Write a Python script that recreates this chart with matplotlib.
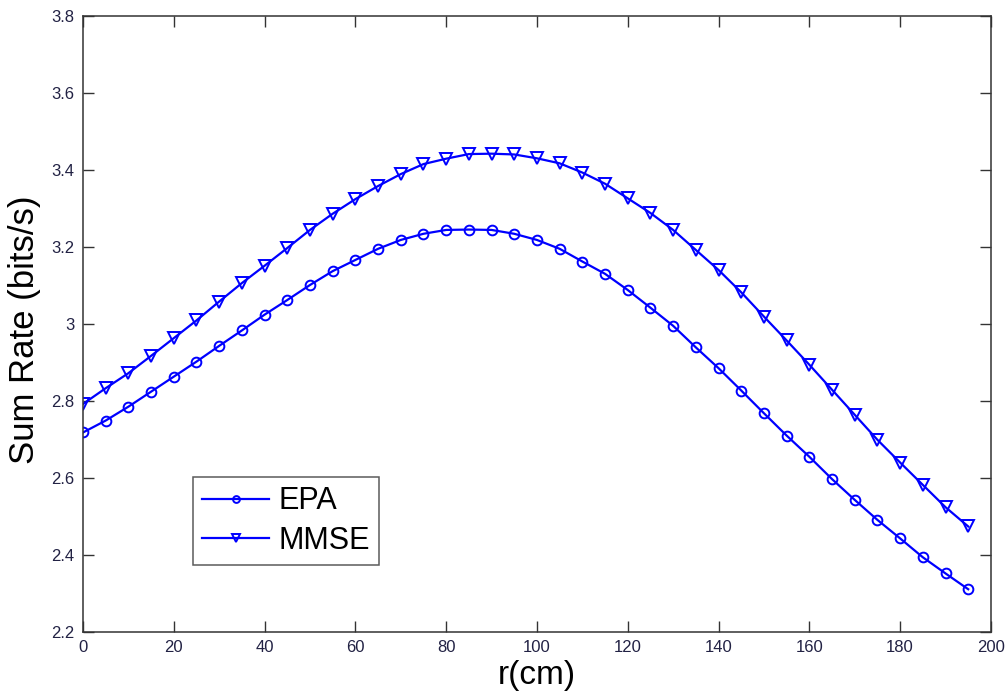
import numpy as np
import matplotlib
matplotlib.use("Agg")
import matplotlib.pyplot as plt

plt.rcParams['font.family'] = ['Liberation Sans', 'DejaVu Sans']

# distance r in cm
r = np.arange(0, 200, 5)

# sum rate
epa = [2.718, 2.749, 2.785, 2.824, 2.863, 2.902, 2.943, 2.983, 3.024, 3.062,
       3.101, 3.137, 3.166, 3.195, 3.218, 3.234, 3.244, 3.245, 3.244, 3.234,
       3.218, 3.195, 3.162, 3.130, 3.088, 3.042, 2.995, 2.939, 2.885, 2.827,
       2.768, 2.710, 2.655, 2.597, 2.543, 2.491, 2.443, 2.394, 2.352, 2.311]
mmse = [2.792, 2.833, 2.872, 2.917, 2.963, 3.009, 3.058, 3.106, 3.151, 3.197,
        3.244, 3.286, 3.324, 3.358, 3.389, 3.415, 3.429, 3.441, 3.442, 3.440,
        3.430, 3.417, 3.393, 3.364, 3.326, 3.288, 3.244, 3.192, 3.140, 3.082,
        3.019, 2.957, 2.894, 2.829, 2.764, 2.699, 2.640, 2.582, 2.524, 2.474]

fig = plt.figure(figsize=(10.06, 6.97), dpi=100)
ax = fig.add_axes([0.0825, 0.0933, 0.9025, 0.884])

ax.plot(r, epa, color='#0000ff', lw=1.6, marker='o', ms=7, mfc='none',
        mew=1.4, label='EPA')
ax.plot(r, mmse, color='#0000ff', lw=1.6, marker='v', ms=8, mfc='none',
        mew=1.4, label='MMSE')

ax.set_xlim(0, 200)
ax.set_ylim(2.2, 3.8)
ax.set_xticks(np.arange(0, 201, 20))
ax.set_yticks(np.arange(2.2, 3.81, 0.2))
ax.set_yticklabels(['2.2', '2.4', '2.6', '2.8', '3', '3.2', '3.4', '3.6', '3.8'])

ax.tick_params(direction='in', length=8, width=1, top=True, right=True,
               labelsize=12, colors='#333333', labelcolor='#222244', pad=6)
for s in ax.spines.values():
    s.set_linewidth(1.1)
    s.set_color('#333333')

ax.set_xlabel('r(cm)', fontsize=24, va='center')
ax.set_ylabel('Sum Rate (bits/s)', fontsize=25, va='center')
ax.xaxis.set_label_coords(0.5, -0.07)
ax.yaxis.set_label_coords(-0.064, 0.49)

leg = ax.legend(loc='lower left', bbox_to_anchor=(0.121, 0.109), fontsize=22,
                frameon=True, fancybox=False, edgecolor='#333333',
                handlelength=2.2, handletextpad=0.3, borderpad=0.3,
                labelspacing=0.3, markerscale=0.7, borderaxespad=0)
leg.get_frame().set_linewidth(1.1)

fig.savefig('out.png', dpi=100)
